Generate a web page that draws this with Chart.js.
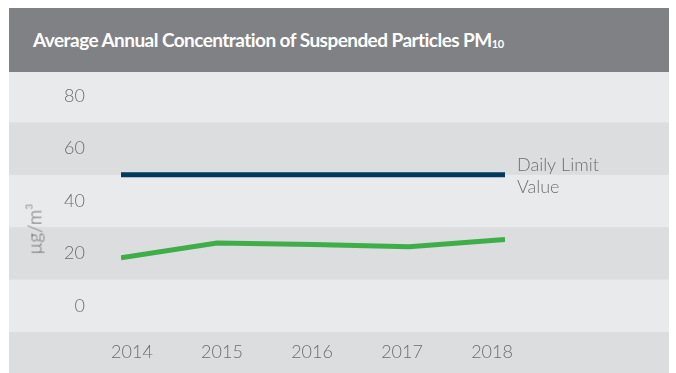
<!DOCTYPE html>
<html>
<head>
<meta charset="utf-8">
<script src="https://cdn.jsdelivr.net/npm/chart.js@4"></script>
<style>
    body { margin: 0; background: #ffffff; width: 676px; height: 373px; overflow: hidden; position: relative; font-family: Lato, "Open Sans", sans-serif; }
    #panel { position: absolute; left: 9px; top: 8px; width: 660px; height: 365px; }
    #title { position: absolute; left: 9px; top: 8px; width: 636px; height: 64px; padding-left: 24px;
             background: #808184; color: #ffffff; font-weight: bold; font-size: 19px; letter-spacing: -0.55px;
             line-height: 64px; white-space: nowrap; }
    #title sub { font-size: 11px; letter-spacing: -0.3px; vertical-align: baseline; position: relative; top: 1px; }
    #unit { position: absolute; left: 34px; top: 229px; transform: translate(-50%, -50%) rotate(-90deg);
            color: #6d6e70; font-size: 19px; font-weight: 300; white-space: nowrap; }
</style>
</head>
<body>
<div id="panel"><canvas id="pm10Chart" width="660" height="365"></canvas></div>
<div id="title">Average Annual Concentration of Suspended Particles PM<sub>10</sub></div>
<div id="unit">µg/m³</div>
<script>
const years = [2014, 2015, 2016, 2017, 2018]
const pm10Values = [18.3, 24, 23.4, 22.5, 25.3]
const dailyLimit = [50, 50, 50, 50, 50]
const yTicks = [0, 20, 40, 60, 80]
// alternating row stripes, from top to bottom
const bandEdges = [90, 70, 50, 30, 10, -10]
const limitLabel = ['Daily Limit', 'Value']

const lightBand = '#e9eaeb'
const darkBand = '#dcdddf'
const textGrey = '#6d6e70'

const bandsPlugin = {
    id: 'bands',
    beforeDraw(chart) {
        let c = chart.ctx
        let y = chart.scales.y
        c.save()
        c.fillStyle = darkBand
        c.fillRect(0, 0, chart.width, chart.height)
        c.fillStyle = lightBand
        for (let i = 0; i < bandEdges.length - 1; i += 2) {
            let top = i === 0 ? 0 : y.getPixelForValue(bandEdges[i])
            let bottom = y.getPixelForValue(bandEdges[i + 1])
            c.fillRect(0, top, chart.width, bottom - top)
        }
        c.restore()
    }
}

const limitLabelPlugin = {
    id: 'limitLabel',
    afterDatasetsDraw(chart) {
        let meta = chart.getDatasetMeta(1)
        let last = meta.data[meta.data.length - 1]
        let c = chart.ctx
        c.save()
        c.fillStyle = textGrey
        c.font = '300 18px Lato'
        c.textBaseline = 'middle'
        c.fillText(limitLabel[0], last.x + 12, last.y - 10)
        c.fillText(limitLabel[1], last.x + 12, last.y + 12)
        c.restore()
    }
}

function pm10Stats(id) {
    const data = {
        datasets: [{
            label: 'PM10',
            data: years.map((x, i) => ({ x: x, y: pm10Values[i] })),
            borderColor: '#3fae49',
            borderWidth: 5,
            pointRadius: 0,
            tension: 0,
            xAxisID: 'x'
        }, {
            label: 'Daily Limit Value',
            data: years.map((x, i) => ({ x: x, y: dailyLimit[i] })),
            borderColor: '#003a5d',
            borderWidth: 5,
            pointRadius: 0,
            tension: 0,
            xAxisID: 'x'
        }]
    };

    const config = {
        type: 'line',
        data: data,
        options: {
            responsive: false,
            animation: false,
            layout: { padding: { top: 62, right: 164, left: 0, bottom: 0 } },
            plugins: { legend: { display: false }, tooltip: { enabled: false } },
            scales: {
                x: {
                    type: 'linear',
                    display: false,
                    min: years[0],
                    max: years[years.length - 1]
                },
                // year labels sit a little inside the line ends
                x2: {
                    type: 'linear',
                    position: 'bottom',
                    min: 2013.878,
                    max: 2018.144,
                    grid: { display: false, drawTicks: false },
                    border: { display: false },
                    afterBuildTicks: s => { s.ticks = years.map(v => ({ value: v })) },
                    afterFit: s => { s.height = 41 },
                    ticks: {
                        padding: 9,
                        color: textGrey,
                        font: { family: 'Lato', size: 18, weight: 300 },
                        callback: v => String(v)
                    }
                },
                y: {
                    min: bandEdges[bandEdges.length - 1],
                    max: bandEdges[0],
                    // hidden tick length keeps the labels away from the plot
                    grid: { display: false, drawTicks: true, tickLength: 36 },
                    border: { display: false },
                    afterBuildTicks: s => { s.ticks = yTicks.map(v => ({ value: v })) },
                    afterFit: s => { s.width = 112 },
                    ticks: {
                        padding: 0,
                        color: textGrey,
                        font: { family: 'Lato', size: 18, weight: 300 }
                    }
                }
            }
        },
        plugins: [bandsPlugin, limitLabelPlugin]
    };

    let ctx = document.getElementById(id).getContext("2d")

    new Chart(ctx, config)
}

pm10Stats('pm10Chart')
</script>
</body>
</html>
